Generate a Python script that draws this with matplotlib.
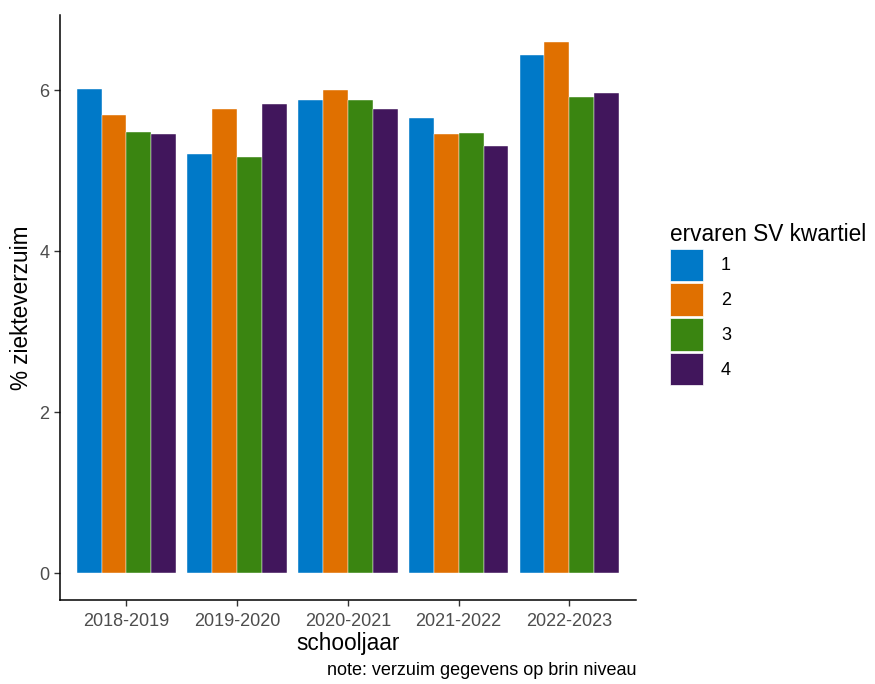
import numpy as np
import matplotlib.pyplot as plt
from matplotlib.patches import Patch

plt.rcParams['font.family'] = ['Liberation Sans', 'DejaVu Sans']

# data
years = ["2018-2019", "2019-2020", "2020-2021", "2021-2022", "2022-2023"]
kwartielen = ["1", "2", "3", "4"]
q1 = [6.01, 5.21, 5.88, 5.65, 6.44]
q2 = [5.69, 5.77, 6.00, 5.45, 6.60]
q3 = [5.48, 5.17, 5.88, 5.47, 5.91]
q4 = [5.46, 5.83, 5.77, 5.30, 5.96]
colors = ["#0079C8", "#E07000", "#3A8511", "#41165C"]

fig = plt.figure(figsize=(8.75, 6.84), dpi=100)
ax = fig.add_axes([0.0686, 0.1228, 0.658, 0.855])

x = np.arange(1, len(years) + 1)
w = 0.225
series = [q1, q2, q3, q4]
for i, vals in enumerate(series):
    ax.bar(x + (i - 1.5) * w, vals, width=w, color=colors[i],
           edgecolor='white', linewidth=0.3, label=kwartielen[i])

ax.set_xlim(0.4, 5.6)
ax.set_ylim(-0.33, 6.93)
ax.set_xticks(x)
ax.set_xticklabels(years)
ax.set_yticks([0, 2, 4, 6])
ax.tick_params(axis='both', colors='#333333', labelcolor='#4d4d4d',
               labelsize=13, length=4, width=1)
ax.tick_params(axis='x', pad=5)
for s in ['top', 'right']:
    ax.spines[s].set_visible(False)
for s in ['left', 'bottom']:
    ax.spines[s].set_linewidth(1.1)
    ax.spines[s].set_color('black')

ax.set_xlabel("schooljaar", fontsize=16.3, labelpad=2)
ax.set_ylabel("% ziekteverzuim", fontsize=16.3, labelpad=5)

handles = [Patch(facecolor=c, edgecolor='white', linewidth=0.5) for c in colors]
leg = fig.legend(handles, kwartielen, title="ervaren SV kwartiel",
                 loc='upper left', bbox_to_anchor=(0.757, 0.684),
                 frameon=False, fontsize=13, title_fontsize=16.3,
                 handlelength=1.85, handleheight=2.4, labelspacing=0.12,
                 handletextpad=1.0, borderaxespad=0)
leg._legend_box.align = "left"

fig.text(0.727, 0.008, "note: verzuim gegevens op brin niveau",
         ha='right', va='bottom', fontsize=13)

fig.savefig("out.png", dpi=100)
